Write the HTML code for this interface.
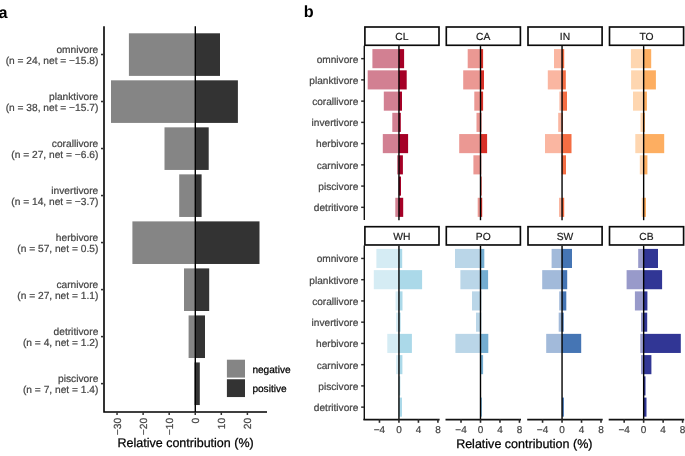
<!DOCTYPE html>
<html><head><meta charset="utf-8"><title>Figure</title>
<style>
html,body{margin:0;padding:0;background:#fff;}
body{width:685px;height:456px;overflow:hidden;font-family:"Liberation Sans",sans-serif;}
svg{display:block;will-change:transform;}
</style></head><body>
<svg width="685" height="456" viewBox="0 0 685 456">

<rect x="128.90" y="33.30" width="66.40" height="42.60" fill="#858585"/>
<rect x="195.30" y="33.30" width="24.70" height="42.60" fill="#333333"/>
<rect x="111.00" y="80.32" width="84.30" height="42.60" fill="#858585"/>
<rect x="195.30" y="80.32" width="42.60" height="42.60" fill="#333333"/>
<rect x="164.50" y="127.34" width="30.80" height="42.60" fill="#858585"/>
<rect x="195.30" y="127.34" width="13.40" height="42.60" fill="#333333"/>
<rect x="179.20" y="174.36" width="16.10" height="42.60" fill="#858585"/>
<rect x="195.30" y="174.36" width="6.30" height="42.60" fill="#333333"/>
<rect x="132.40" y="221.38" width="62.90" height="42.60" fill="#858585"/>
<rect x="195.30" y="221.38" width="64.20" height="42.60" fill="#333333"/>
<rect x="184.00" y="268.40" width="11.30" height="42.60" fill="#858585"/>
<rect x="195.30" y="268.40" width="13.90" height="42.60" fill="#333333"/>
<rect x="188.60" y="315.42" width="6.70" height="42.60" fill="#858585"/>
<rect x="195.30" y="315.42" width="9.70" height="42.60" fill="#333333"/>
<rect x="194.30" y="362.44" width="1.00" height="42.60" fill="#858585"/>
<rect x="195.30" y="362.44" width="4.50" height="42.60" fill="#333333"/>
<line x1="195.3" y1="26.2" x2="195.3" y2="411.95" stroke="#000" stroke-width="1.4"/>
<path d="M104.0 26.2 V411.95 H267.0" fill="none" stroke="#000000" stroke-width="1.6" stroke-linejoin="miter"/>
<line x1="101.0" y1="54.50" x2="104.0" y2="54.50" stroke="#333333" stroke-width="1.55"/>
<text x="98.3" y="52.95" text-anchor="end" font-size="10.2" fill="#454545" stroke="#454545" stroke-width="0.22" font-family="Liberation Sans, sans-serif" text-rendering="geometricPrecision">omnivore</text>
<text x="98.3" y="63.60" text-anchor="end" font-size="10.2" fill="#454545" stroke="#454545" stroke-width="0.22" font-family="Liberation Sans, sans-serif" text-rendering="geometricPrecision">(n = 24, net = −15.8)</text>
<line x1="101.0" y1="101.52" x2="104.0" y2="101.52" stroke="#333333" stroke-width="1.55"/>
<text x="98.3" y="99.97" text-anchor="end" font-size="10.2" fill="#454545" stroke="#454545" stroke-width="0.22" font-family="Liberation Sans, sans-serif" text-rendering="geometricPrecision">planktivore</text>
<text x="98.3" y="110.62" text-anchor="end" font-size="10.2" fill="#454545" stroke="#454545" stroke-width="0.22" font-family="Liberation Sans, sans-serif" text-rendering="geometricPrecision">(n = 38, net = −15.7)</text>
<line x1="101.0" y1="148.54" x2="104.0" y2="148.54" stroke="#333333" stroke-width="1.55"/>
<text x="98.3" y="146.99" text-anchor="end" font-size="10.2" fill="#454545" stroke="#454545" stroke-width="0.22" font-family="Liberation Sans, sans-serif" text-rendering="geometricPrecision">corallivore</text>
<text x="98.3" y="157.64" text-anchor="end" font-size="10.2" fill="#454545" stroke="#454545" stroke-width="0.22" font-family="Liberation Sans, sans-serif" text-rendering="geometricPrecision">(n = 27, net = −6.6)</text>
<line x1="101.0" y1="195.56" x2="104.0" y2="195.56" stroke="#333333" stroke-width="1.55"/>
<text x="98.3" y="194.01" text-anchor="end" font-size="10.2" fill="#454545" stroke="#454545" stroke-width="0.22" font-family="Liberation Sans, sans-serif" text-rendering="geometricPrecision">invertivore</text>
<text x="98.3" y="204.66" text-anchor="end" font-size="10.2" fill="#454545" stroke="#454545" stroke-width="0.22" font-family="Liberation Sans, sans-serif" text-rendering="geometricPrecision">(n = 14, net = −3.7)</text>
<line x1="101.0" y1="242.58" x2="104.0" y2="242.58" stroke="#333333" stroke-width="1.55"/>
<text x="98.3" y="241.03" text-anchor="end" font-size="10.2" fill="#454545" stroke="#454545" stroke-width="0.22" font-family="Liberation Sans, sans-serif" text-rendering="geometricPrecision">herbivore</text>
<text x="98.3" y="251.68" text-anchor="end" font-size="10.2" fill="#454545" stroke="#454545" stroke-width="0.22" font-family="Liberation Sans, sans-serif" text-rendering="geometricPrecision">(n = 57, net = 0.5)</text>
<line x1="101.0" y1="289.60" x2="104.0" y2="289.60" stroke="#333333" stroke-width="1.55"/>
<text x="98.3" y="288.05" text-anchor="end" font-size="10.2" fill="#454545" stroke="#454545" stroke-width="0.22" font-family="Liberation Sans, sans-serif" text-rendering="geometricPrecision">carnivore</text>
<text x="98.3" y="298.70" text-anchor="end" font-size="10.2" fill="#454545" stroke="#454545" stroke-width="0.22" font-family="Liberation Sans, sans-serif" text-rendering="geometricPrecision">(n = 27, net = 1.1)</text>
<line x1="101.0" y1="336.62" x2="104.0" y2="336.62" stroke="#333333" stroke-width="1.55"/>
<text x="98.3" y="335.07" text-anchor="end" font-size="10.2" fill="#454545" stroke="#454545" stroke-width="0.22" font-family="Liberation Sans, sans-serif" text-rendering="geometricPrecision">detritivore</text>
<text x="98.3" y="345.72" text-anchor="end" font-size="10.2" fill="#454545" stroke="#454545" stroke-width="0.22" font-family="Liberation Sans, sans-serif" text-rendering="geometricPrecision">(n = 4, net = 1.2)</text>
<line x1="101.0" y1="383.64" x2="104.0" y2="383.64" stroke="#333333" stroke-width="1.55"/>
<text x="98.3" y="382.09" text-anchor="end" font-size="10.2" fill="#454545" stroke="#454545" stroke-width="0.22" font-family="Liberation Sans, sans-serif" text-rendering="geometricPrecision">piscivore</text>
<text x="98.3" y="392.74" text-anchor="end" font-size="10.2" fill="#454545" stroke="#454545" stroke-width="0.22" font-family="Liberation Sans, sans-serif" text-rendering="geometricPrecision">(n = 7, net = 1.4)</text>
<line x1="117.04" y1="411.95" x2="117.04" y2="415.0" stroke="#333333" stroke-width="1.5"/>
<text transform="translate(120.54,417.8) rotate(-90)" text-anchor="end" font-size="10.3" fill="#454545" stroke="#454545" stroke-width="0.22" font-family="Liberation Sans, sans-serif" text-rendering="geometricPrecision">−30</text>
<line x1="143.11" y1="411.95" x2="143.11" y2="415.0" stroke="#333333" stroke-width="1.5"/>
<text transform="translate(146.61,417.8) rotate(-90)" text-anchor="end" font-size="10.3" fill="#454545" stroke="#454545" stroke-width="0.22" font-family="Liberation Sans, sans-serif" text-rendering="geometricPrecision">−20</text>
<line x1="169.18" y1="411.95" x2="169.18" y2="415.0" stroke="#333333" stroke-width="1.5"/>
<text transform="translate(172.68,417.8) rotate(-90)" text-anchor="end" font-size="10.3" fill="#454545" stroke="#454545" stroke-width="0.22" font-family="Liberation Sans, sans-serif" text-rendering="geometricPrecision">−10</text>
<line x1="195.25" y1="411.95" x2="195.25" y2="415.0" stroke="#333333" stroke-width="1.5"/>
<text transform="translate(198.75,417.8) rotate(-90)" text-anchor="end" font-size="10.3" fill="#454545" stroke="#454545" stroke-width="0.22" font-family="Liberation Sans, sans-serif" text-rendering="geometricPrecision">0</text>
<line x1="221.32" y1="411.95" x2="221.32" y2="415.0" stroke="#333333" stroke-width="1.5"/>
<text transform="translate(224.82,417.8) rotate(-90)" text-anchor="end" font-size="10.3" fill="#454545" stroke="#454545" stroke-width="0.22" font-family="Liberation Sans, sans-serif" text-rendering="geometricPrecision">10</text>
<line x1="247.39" y1="411.95" x2="247.39" y2="415.0" stroke="#333333" stroke-width="1.5"/>
<text transform="translate(250.89,417.8) rotate(-90)" text-anchor="end" font-size="10.3" fill="#454545" stroke="#454545" stroke-width="0.22" font-family="Liberation Sans, sans-serif" text-rendering="geometricPrecision">20</text>
<text x="185.6" y="447.15" text-anchor="middle" font-size="12.5" fill="#000" stroke="#000" stroke-width="0.25" font-family="Liberation Sans, sans-serif" text-rendering="geometricPrecision">Relative contribution (%)</text>
<rect x="226.9" y="359.7" width="18.1" height="17.9" fill="#858585"/>
<rect x="226.9" y="379.25" width="18.1" height="17.8" fill="#333333"/>
<text x="252.4" y="372.5" font-size="10.1" fill="#000" stroke="#000" stroke-width="0.25" font-family="Liberation Sans, sans-serif" text-rendering="geometricPrecision">negative</text>
<text x="252.4" y="392.4" font-size="10.1" fill="#000" stroke="#000" stroke-width="0.25" font-family="Liberation Sans, sans-serif" text-rendering="geometricPrecision">positive</text>
<text x="-1.4" y="17.6" font-size="16.2" font-weight="bold" fill="#000" font-family="Liberation Sans, sans-serif" text-rendering="geometricPrecision">a</text>
<text x="303.8" y="17.3" font-size="16.2" font-weight="bold" fill="#000" font-family="Liberation Sans, sans-serif" text-rendering="geometricPrecision">b</text>
<rect x="372.40" y="49.10" width="26.55" height="19.10" fill="#D28092"/>
<rect x="398.95" y="49.10" width="5.15" height="19.10" fill="#A50026"/>
<rect x="367.70" y="70.34" width="31.25" height="19.10" fill="#D28092"/>
<rect x="398.95" y="70.34" width="7.75" height="19.10" fill="#A50026"/>
<rect x="383.80" y="91.58" width="15.15" height="19.10" fill="#D28092"/>
<rect x="398.95" y="91.58" width="3.05" height="19.10" fill="#A50026"/>
<rect x="392.30" y="112.82" width="6.65" height="19.10" fill="#D28092"/>
<rect x="398.95" y="112.82" width="1.85" height="19.10" fill="#A50026"/>
<rect x="382.80" y="134.06" width="16.15" height="19.10" fill="#D28092"/>
<rect x="398.95" y="134.06" width="9.15" height="19.10" fill="#A50026"/>
<rect x="397.00" y="155.30" width="1.95" height="19.10" fill="#D28092"/>
<rect x="398.95" y="155.30" width="3.95" height="19.10" fill="#A50026"/>
<rect x="398.70" y="176.54" width="0.25" height="19.10" fill="#D28092"/>
<rect x="398.95" y="176.54" width="2.05" height="19.10" fill="#A50026"/>
<rect x="395.30" y="197.78" width="3.65" height="19.10" fill="#D28092"/>
<rect x="398.95" y="197.78" width="4.25" height="19.10" fill="#A50026"/>
<line x1="398.95" y1="46.1" x2="398.95" y2="220.20000000000002" stroke="#000" stroke-width="1.4"/>
<rect x="364.90" y="27.00" width="74.1" height="18.28" fill="#fff" stroke="#0a0a0a" stroke-width="1.65"/>
<text x="401.85" y="39.85" text-anchor="middle" font-size="10.3" fill="#1a1a1a" stroke="#1a1a1a" stroke-width="0.2" font-family="Liberation Sans, sans-serif" text-rendering="geometricPrecision">CL</text>
<line x1="364.30" y1="45.800000000000004" x2="364.30" y2="219.9" stroke="#111" stroke-width="1.4"/>
<line x1="361.15" y1="58.65" x2="364.05" y2="58.65" stroke="#2a2a2a" stroke-width="1.45"/>
<text x="358.3" y="62.50" text-anchor="end" font-size="10.15" fill="#454545" stroke="#454545" stroke-width="0.22" font-family="Liberation Sans, sans-serif" text-rendering="geometricPrecision">omnivore</text>
<line x1="361.15" y1="79.89" x2="364.05" y2="79.89" stroke="#2a2a2a" stroke-width="1.45"/>
<text x="358.3" y="83.74" text-anchor="end" font-size="10.15" fill="#454545" stroke="#454545" stroke-width="0.22" font-family="Liberation Sans, sans-serif" text-rendering="geometricPrecision">planktivore</text>
<line x1="361.15" y1="101.13" x2="364.05" y2="101.13" stroke="#2a2a2a" stroke-width="1.45"/>
<text x="358.3" y="104.98" text-anchor="end" font-size="10.15" fill="#454545" stroke="#454545" stroke-width="0.22" font-family="Liberation Sans, sans-serif" text-rendering="geometricPrecision">corallivore</text>
<line x1="361.15" y1="122.37" x2="364.05" y2="122.37" stroke="#2a2a2a" stroke-width="1.45"/>
<text x="358.3" y="126.22" text-anchor="end" font-size="10.15" fill="#454545" stroke="#454545" stroke-width="0.22" font-family="Liberation Sans, sans-serif" text-rendering="geometricPrecision">invertivore</text>
<line x1="361.15" y1="143.61" x2="364.05" y2="143.61" stroke="#2a2a2a" stroke-width="1.45"/>
<text x="358.3" y="147.46" text-anchor="end" font-size="10.15" fill="#454545" stroke="#454545" stroke-width="0.22" font-family="Liberation Sans, sans-serif" text-rendering="geometricPrecision">herbivore</text>
<line x1="361.15" y1="164.85" x2="364.05" y2="164.85" stroke="#2a2a2a" stroke-width="1.45"/>
<text x="358.3" y="168.70" text-anchor="end" font-size="10.15" fill="#454545" stroke="#454545" stroke-width="0.22" font-family="Liberation Sans, sans-serif" text-rendering="geometricPrecision">carnivore</text>
<line x1="361.15" y1="186.09" x2="364.05" y2="186.09" stroke="#2a2a2a" stroke-width="1.45"/>
<text x="358.3" y="189.94" text-anchor="end" font-size="10.15" fill="#454545" stroke="#454545" stroke-width="0.22" font-family="Liberation Sans, sans-serif" text-rendering="geometricPrecision">piscivore</text>
<line x1="361.15" y1="207.33" x2="364.05" y2="207.33" stroke="#2a2a2a" stroke-width="1.45"/>
<text x="358.3" y="211.18" text-anchor="end" font-size="10.15" fill="#454545" stroke="#454545" stroke-width="0.22" font-family="Liberation Sans, sans-serif" text-rendering="geometricPrecision">detritivore</text>
<rect x="467.70" y="49.10" width="12.80" height="19.10" fill="#EB9893"/>
<rect x="480.50" y="49.10" width="2.60" height="19.10" fill="#D73027"/>
<rect x="463.20" y="70.34" width="17.30" height="19.10" fill="#EB9893"/>
<rect x="480.50" y="70.34" width="3.50" height="19.10" fill="#D73027"/>
<rect x="474.30" y="91.58" width="6.20" height="19.10" fill="#EB9893"/>
<rect x="480.50" y="91.58" width="2.60" height="19.10" fill="#D73027"/>
<rect x="476.50" y="112.82" width="4.00" height="19.10" fill="#EB9893"/>
<rect x="480.50" y="112.82" width="0.90" height="19.10" fill="#D73027"/>
<rect x="459.20" y="134.06" width="21.30" height="19.10" fill="#EB9893"/>
<rect x="480.50" y="134.06" width="6.60" height="19.10" fill="#D73027"/>
<rect x="473.40" y="155.30" width="7.10" height="19.10" fill="#EB9893"/>
<rect x="480.50" y="155.30" width="0.70" height="19.10" fill="#D73027"/>
<rect x="480.30" y="176.54" width="0.20" height="19.10" fill="#EB9893"/>
<rect x="480.50" y="176.54" width="1.10" height="19.10" fill="#D73027"/>
<rect x="477.70" y="197.78" width="2.80" height="19.10" fill="#EB9893"/>
<rect x="480.50" y="197.78" width="1.70" height="19.10" fill="#D73027"/>
<line x1="480.50" y1="46.1" x2="480.50" y2="220.20000000000002" stroke="#000" stroke-width="1.4"/>
<rect x="446.30" y="27.00" width="74.1" height="18.28" fill="#fff" stroke="#0a0a0a" stroke-width="1.65"/>
<text x="483.25" y="39.85" text-anchor="middle" font-size="10.3" fill="#1a1a1a" stroke="#1a1a1a" stroke-width="0.2" font-family="Liberation Sans, sans-serif" text-rendering="geometricPrecision">CA</text>
<rect x="554.00" y="49.10" width="8.05" height="19.10" fill="#FAB6A1"/>
<rect x="562.05" y="49.10" width="2.15" height="19.10" fill="#F46D43"/>
<rect x="547.80" y="70.34" width="14.25" height="19.10" fill="#FAB6A1"/>
<rect x="562.05" y="70.34" width="3.75" height="19.10" fill="#F46D43"/>
<rect x="559.40" y="91.58" width="2.65" height="19.10" fill="#FAB6A1"/>
<rect x="562.05" y="91.58" width="4.95" height="19.10" fill="#F46D43"/>
<rect x="558.20" y="112.82" width="3.85" height="19.10" fill="#FAB6A1"/>
<rect x="562.05" y="112.82" width="0.75" height="19.10" fill="#F46D43"/>
<rect x="545.00" y="134.06" width="17.05" height="19.10" fill="#FAB6A1"/>
<rect x="562.05" y="134.06" width="9.45" height="19.10" fill="#F46D43"/>
<rect x="561.40" y="155.30" width="0.65" height="19.10" fill="#FAB6A1"/>
<rect x="562.05" y="155.30" width="3.95" height="19.10" fill="#F46D43"/>
<rect x="559.00" y="197.78" width="3.05" height="19.10" fill="#FAB6A1"/>
<rect x="562.05" y="197.78" width="2.15" height="19.10" fill="#F46D43"/>
<line x1="562.05" y1="46.1" x2="562.05" y2="220.20000000000002" stroke="#000" stroke-width="1.4"/>
<rect x="528.00" y="27.00" width="74.1" height="18.28" fill="#fff" stroke="#0a0a0a" stroke-width="1.65"/>
<text x="564.95" y="39.85" text-anchor="middle" font-size="10.3" fill="#1a1a1a" stroke="#1a1a1a" stroke-width="0.2" font-family="Liberation Sans, sans-serif" text-rendering="geometricPrecision">IN</text>
<rect x="630.90" y="49.10" width="12.75" height="19.10" fill="#FED6B0"/>
<rect x="643.65" y="49.10" width="7.55" height="19.10" fill="#FDAE61"/>
<rect x="631.10" y="70.34" width="12.55" height="19.10" fill="#FED6B0"/>
<rect x="643.65" y="70.34" width="12.25" height="19.10" fill="#FDAE61"/>
<rect x="633.00" y="91.58" width="10.65" height="19.10" fill="#FED6B0"/>
<rect x="643.65" y="91.58" width="3.25" height="19.10" fill="#FDAE61"/>
<rect x="640.50" y="112.82" width="3.15" height="19.10" fill="#FED6B0"/>
<rect x="643.65" y="112.82" width="1.35" height="19.10" fill="#FDAE61"/>
<rect x="635.30" y="134.06" width="8.35" height="19.10" fill="#FED6B0"/>
<rect x="643.65" y="134.06" width="20.55" height="19.10" fill="#FDAE61"/>
<rect x="639.80" y="155.30" width="3.85" height="19.10" fill="#FED6B0"/>
<rect x="643.65" y="155.30" width="3.75" height="19.10" fill="#FDAE61"/>
<rect x="641.70" y="197.78" width="1.95" height="19.10" fill="#FED6B0"/>
<rect x="643.65" y="197.78" width="2.35" height="19.10" fill="#FDAE61"/>
<line x1="643.65" y1="46.1" x2="643.65" y2="220.20000000000002" stroke="#000" stroke-width="1.4"/>
<rect x="609.50" y="27.00" width="74.1" height="18.28" fill="#fff" stroke="#0a0a0a" stroke-width="1.65"/>
<text x="646.45" y="39.85" text-anchor="middle" font-size="10.3" fill="#1a1a1a" stroke="#1a1a1a" stroke-width="0.2" font-family="Liberation Sans, sans-serif" text-rendering="geometricPrecision">TO</text>
<rect x="376.40" y="248.90" width="22.55" height="19.10" fill="#D5ECF4"/>
<rect x="398.95" y="248.90" width="3.25" height="19.10" fill="#ABD9E9"/>
<rect x="373.80" y="270.14" width="25.15" height="19.10" fill="#D5ECF4"/>
<rect x="398.95" y="270.14" width="23.15" height="19.10" fill="#ABD9E9"/>
<rect x="395.60" y="291.38" width="3.35" height="19.10" fill="#D5ECF4"/>
<rect x="398.95" y="291.38" width="3.55" height="19.10" fill="#ABD9E9"/>
<rect x="396.10" y="312.62" width="2.85" height="19.10" fill="#D5ECF4"/>
<rect x="398.95" y="312.62" width="1.65" height="19.10" fill="#ABD9E9"/>
<rect x="387.30" y="333.86" width="11.65" height="19.10" fill="#D5ECF4"/>
<rect x="398.95" y="333.86" width="12.95" height="19.10" fill="#ABD9E9"/>
<rect x="396.10" y="355.10" width="2.85" height="19.10" fill="#D5ECF4"/>
<rect x="398.95" y="355.10" width="3.45" height="19.10" fill="#ABD9E9"/>
<rect x="398.70" y="376.34" width="0.25" height="19.10" fill="#D5ECF4"/>
<rect x="398.95" y="376.34" width="1.35" height="19.10" fill="#ABD9E9"/>
<rect x="398.70" y="397.58" width="0.25" height="19.10" fill="#D5ECF4"/>
<rect x="398.95" y="397.58" width="3.05" height="19.10" fill="#ABD9E9"/>
<line x1="398.95" y1="245.7" x2="398.95" y2="419.6" stroke="#000" stroke-width="1.4"/>
<rect x="364.90" y="226.70" width="74.1" height="18.28" fill="#fff" stroke="#0a0a0a" stroke-width="1.65"/>
<text x="401.85" y="239.75" text-anchor="middle" font-size="10.3" fill="#1a1a1a" stroke="#1a1a1a" stroke-width="0.2" font-family="Liberation Sans, sans-serif" text-rendering="geometricPrecision">WH</text>
<line x1="364.30" y1="245.39999999999998" x2="364.30" y2="420.1" stroke="#111" stroke-width="1.4"/>
<line x1="361.15" y1="258.45" x2="364.05" y2="258.45" stroke="#2a2a2a" stroke-width="1.45"/>
<text x="358.3" y="262.30" text-anchor="end" font-size="10.15" fill="#454545" stroke="#454545" stroke-width="0.22" font-family="Liberation Sans, sans-serif" text-rendering="geometricPrecision">omnivore</text>
<line x1="361.15" y1="279.69" x2="364.05" y2="279.69" stroke="#2a2a2a" stroke-width="1.45"/>
<text x="358.3" y="283.54" text-anchor="end" font-size="10.15" fill="#454545" stroke="#454545" stroke-width="0.22" font-family="Liberation Sans, sans-serif" text-rendering="geometricPrecision">planktivore</text>
<line x1="361.15" y1="300.93" x2="364.05" y2="300.93" stroke="#2a2a2a" stroke-width="1.45"/>
<text x="358.3" y="304.78" text-anchor="end" font-size="10.15" fill="#454545" stroke="#454545" stroke-width="0.22" font-family="Liberation Sans, sans-serif" text-rendering="geometricPrecision">corallivore</text>
<line x1="361.15" y1="322.17" x2="364.05" y2="322.17" stroke="#2a2a2a" stroke-width="1.45"/>
<text x="358.3" y="326.02" text-anchor="end" font-size="10.15" fill="#454545" stroke="#454545" stroke-width="0.22" font-family="Liberation Sans, sans-serif" text-rendering="geometricPrecision">invertivore</text>
<line x1="361.15" y1="343.41" x2="364.05" y2="343.41" stroke="#2a2a2a" stroke-width="1.45"/>
<text x="358.3" y="347.26" text-anchor="end" font-size="10.15" fill="#454545" stroke="#454545" stroke-width="0.22" font-family="Liberation Sans, sans-serif" text-rendering="geometricPrecision">herbivore</text>
<line x1="361.15" y1="364.65" x2="364.05" y2="364.65" stroke="#2a2a2a" stroke-width="1.45"/>
<text x="358.3" y="368.50" text-anchor="end" font-size="10.15" fill="#454545" stroke="#454545" stroke-width="0.22" font-family="Liberation Sans, sans-serif" text-rendering="geometricPrecision">carnivore</text>
<line x1="361.15" y1="385.89" x2="364.05" y2="385.89" stroke="#2a2a2a" stroke-width="1.45"/>
<text x="358.3" y="389.74" text-anchor="end" font-size="10.15" fill="#454545" stroke="#454545" stroke-width="0.22" font-family="Liberation Sans, sans-serif" text-rendering="geometricPrecision">piscivore</text>
<line x1="361.15" y1="407.13" x2="364.05" y2="407.13" stroke="#2a2a2a" stroke-width="1.45"/>
<text x="358.3" y="410.98" text-anchor="end" font-size="10.15" fill="#454545" stroke="#454545" stroke-width="0.22" font-family="Liberation Sans, sans-serif" text-rendering="geometricPrecision">detritivore</text>
<line x1="363.40" y1="419.6" x2="439.60" y2="419.6" stroke="#111" stroke-width="1.55"/>
<line x1="379.47" y1="419.3" x2="379.47" y2="422.8" stroke="#2a2a2a" stroke-width="1.6"/>
<text x="379.47" y="432.55" text-anchor="middle" font-size="10" fill="#454545" stroke="#454545" stroke-width="0.22" font-family="Liberation Sans, sans-serif" text-rendering="geometricPrecision">−4</text>
<line x1="398.95" y1="419.3" x2="398.95" y2="422.8" stroke="#2a2a2a" stroke-width="1.6"/>
<text x="398.95" y="432.55" text-anchor="middle" font-size="10" fill="#454545" stroke="#454545" stroke-width="0.22" font-family="Liberation Sans, sans-serif" text-rendering="geometricPrecision">0</text>
<line x1="418.43" y1="419.3" x2="418.43" y2="422.8" stroke="#2a2a2a" stroke-width="1.6"/>
<text x="418.43" y="432.55" text-anchor="middle" font-size="10" fill="#454545" stroke="#454545" stroke-width="0.22" font-family="Liberation Sans, sans-serif" text-rendering="geometricPrecision">4</text>
<line x1="437.91" y1="419.3" x2="437.91" y2="422.8" stroke="#2a2a2a" stroke-width="1.6"/>
<text x="437.91" y="432.55" text-anchor="middle" font-size="10" fill="#454545" stroke="#454545" stroke-width="0.22" font-family="Liberation Sans, sans-serif" text-rendering="geometricPrecision">8</text>
<rect x="455.00" y="248.90" width="25.50" height="19.10" fill="#BAD6E8"/>
<rect x="480.50" y="248.90" width="3.80" height="19.10" fill="#74ADD1"/>
<rect x="460.40" y="270.14" width="20.10" height="19.10" fill="#BAD6E8"/>
<rect x="480.50" y="270.14" width="7.60" height="19.10" fill="#74ADD1"/>
<rect x="472.00" y="291.38" width="8.50" height="19.10" fill="#BAD6E8"/>
<rect x="480.50" y="291.38" width="0.70" height="19.10" fill="#74ADD1"/>
<rect x="476.00" y="312.62" width="4.50" height="19.10" fill="#BAD6E8"/>
<rect x="480.50" y="312.62" width="0.70" height="19.10" fill="#74ADD1"/>
<rect x="455.40" y="333.86" width="25.10" height="19.10" fill="#BAD6E8"/>
<rect x="480.50" y="333.86" width="7.80" height="19.10" fill="#74ADD1"/>
<rect x="480.30" y="355.10" width="0.20" height="19.10" fill="#BAD6E8"/>
<rect x="480.50" y="355.10" width="2.60" height="19.10" fill="#74ADD1"/>
<rect x="480.30" y="397.58" width="0.20" height="19.10" fill="#BAD6E8"/>
<rect x="480.50" y="397.58" width="1.40" height="19.10" fill="#74ADD1"/>
<line x1="480.50" y1="245.7" x2="480.50" y2="419.6" stroke="#000" stroke-width="1.4"/>
<rect x="446.30" y="226.70" width="74.1" height="18.28" fill="#fff" stroke="#0a0a0a" stroke-width="1.65"/>
<text x="483.25" y="239.75" text-anchor="middle" font-size="10.3" fill="#1a1a1a" stroke="#1a1a1a" stroke-width="0.2" font-family="Liberation Sans, sans-serif" text-rendering="geometricPrecision">PO</text>
<line x1="445.50" y1="419.6" x2="521.00" y2="419.6" stroke="#111" stroke-width="1.55"/>
<line x1="461.02" y1="419.3" x2="461.02" y2="422.8" stroke="#2a2a2a" stroke-width="1.6"/>
<text x="461.02" y="432.55" text-anchor="middle" font-size="10" fill="#454545" stroke="#454545" stroke-width="0.22" font-family="Liberation Sans, sans-serif" text-rendering="geometricPrecision">−4</text>
<line x1="480.50" y1="419.3" x2="480.50" y2="422.8" stroke="#2a2a2a" stroke-width="1.6"/>
<text x="480.50" y="432.55" text-anchor="middle" font-size="10" fill="#454545" stroke="#454545" stroke-width="0.22" font-family="Liberation Sans, sans-serif" text-rendering="geometricPrecision">0</text>
<line x1="499.98" y1="419.3" x2="499.98" y2="422.8" stroke="#2a2a2a" stroke-width="1.6"/>
<text x="499.98" y="432.55" text-anchor="middle" font-size="10" fill="#454545" stroke="#454545" stroke-width="0.22" font-family="Liberation Sans, sans-serif" text-rendering="geometricPrecision">4</text>
<line x1="519.46" y1="419.3" x2="519.46" y2="422.8" stroke="#2a2a2a" stroke-width="1.6"/>
<text x="519.46" y="432.55" text-anchor="middle" font-size="10" fill="#454545" stroke="#454545" stroke-width="0.22" font-family="Liberation Sans, sans-serif" text-rendering="geometricPrecision">8</text>
<rect x="551.60" y="248.90" width="10.45" height="19.10" fill="#A2BADA"/>
<rect x="562.05" y="248.90" width="9.95" height="19.10" fill="#4575B4"/>
<rect x="542.20" y="270.14" width="19.85" height="19.10" fill="#A2BADA"/>
<rect x="562.05" y="270.14" width="5.15" height="19.10" fill="#4575B4"/>
<rect x="559.20" y="291.38" width="2.85" height="19.10" fill="#A2BADA"/>
<rect x="562.05" y="291.38" width="4.25" height="19.10" fill="#4575B4"/>
<rect x="558.70" y="312.62" width="3.35" height="19.10" fill="#A2BADA"/>
<rect x="562.05" y="312.62" width="1.65" height="19.10" fill="#4575B4"/>
<rect x="546.20" y="333.86" width="15.85" height="19.10" fill="#A2BADA"/>
<rect x="562.05" y="333.86" width="19.15" height="19.10" fill="#4575B4"/>
<rect x="561.90" y="397.58" width="0.15" height="19.10" fill="#A2BADA"/>
<rect x="562.05" y="397.58" width="1.85" height="19.10" fill="#4575B4"/>
<line x1="562.05" y1="245.7" x2="562.05" y2="419.6" stroke="#000" stroke-width="1.4"/>
<rect x="528.00" y="226.70" width="74.1" height="18.28" fill="#fff" stroke="#0a0a0a" stroke-width="1.65"/>
<text x="564.95" y="239.75" text-anchor="middle" font-size="10.3" fill="#1a1a1a" stroke="#1a1a1a" stroke-width="0.2" font-family="Liberation Sans, sans-serif" text-rendering="geometricPrecision">SW</text>
<line x1="527.20" y1="419.6" x2="602.70" y2="419.6" stroke="#111" stroke-width="1.55"/>
<line x1="542.57" y1="419.3" x2="542.57" y2="422.8" stroke="#2a2a2a" stroke-width="1.6"/>
<text x="542.57" y="432.55" text-anchor="middle" font-size="10" fill="#454545" stroke="#454545" stroke-width="0.22" font-family="Liberation Sans, sans-serif" text-rendering="geometricPrecision">−4</text>
<line x1="562.05" y1="419.3" x2="562.05" y2="422.8" stroke="#2a2a2a" stroke-width="1.6"/>
<text x="562.05" y="432.55" text-anchor="middle" font-size="10" fill="#454545" stroke="#454545" stroke-width="0.22" font-family="Liberation Sans, sans-serif" text-rendering="geometricPrecision">0</text>
<line x1="581.53" y1="419.3" x2="581.53" y2="422.8" stroke="#2a2a2a" stroke-width="1.6"/>
<text x="581.53" y="432.55" text-anchor="middle" font-size="10" fill="#454545" stroke="#454545" stroke-width="0.22" font-family="Liberation Sans, sans-serif" text-rendering="geometricPrecision">4</text>
<line x1="601.01" y1="419.3" x2="601.01" y2="422.8" stroke="#2a2a2a" stroke-width="1.6"/>
<text x="601.01" y="432.55" text-anchor="middle" font-size="10" fill="#454545" stroke="#454545" stroke-width="0.22" font-family="Liberation Sans, sans-serif" text-rendering="geometricPrecision">8</text>
<rect x="638.20" y="248.90" width="5.45" height="19.10" fill="#989ACA"/>
<rect x="643.65" y="248.90" width="14.35" height="19.10" fill="#313695"/>
<rect x="626.60" y="270.14" width="17.05" height="19.10" fill="#989ACA"/>
<rect x="643.65" y="270.14" width="18.45" height="19.10" fill="#313695"/>
<rect x="634.90" y="291.38" width="8.75" height="19.10" fill="#989ACA"/>
<rect x="643.65" y="291.38" width="3.75" height="19.10" fill="#313695"/>
<rect x="641.00" y="312.62" width="2.65" height="19.10" fill="#989ACA"/>
<rect x="643.65" y="312.62" width="3.55" height="19.10" fill="#313695"/>
<rect x="640.30" y="333.86" width="3.35" height="19.10" fill="#989ACA"/>
<rect x="643.65" y="333.86" width="37.15" height="19.10" fill="#313695"/>
<rect x="641.00" y="355.10" width="2.65" height="19.10" fill="#989ACA"/>
<rect x="643.65" y="355.10" width="7.75" height="19.10" fill="#313695"/>
<rect x="643.40" y="376.34" width="0.25" height="19.10" fill="#989ACA"/>
<rect x="643.65" y="376.34" width="1.85" height="19.10" fill="#313695"/>
<rect x="643.40" y="397.58" width="0.25" height="19.10" fill="#989ACA"/>
<rect x="643.65" y="397.58" width="2.85" height="19.10" fill="#313695"/>
<line x1="643.65" y1="245.7" x2="643.65" y2="419.6" stroke="#000" stroke-width="1.4"/>
<rect x="609.50" y="226.70" width="74.1" height="18.28" fill="#fff" stroke="#0a0a0a" stroke-width="1.65"/>
<text x="646.45" y="239.75" text-anchor="middle" font-size="10.3" fill="#1a1a1a" stroke="#1a1a1a" stroke-width="0.2" font-family="Liberation Sans, sans-serif" text-rendering="geometricPrecision">CB</text>
<line x1="608.70" y1="419.6" x2="684.20" y2="419.6" stroke="#111" stroke-width="1.55"/>
<line x1="624.17" y1="419.3" x2="624.17" y2="422.8" stroke="#2a2a2a" stroke-width="1.6"/>
<text x="624.17" y="432.55" text-anchor="middle" font-size="10" fill="#454545" stroke="#454545" stroke-width="0.22" font-family="Liberation Sans, sans-serif" text-rendering="geometricPrecision">−4</text>
<line x1="643.65" y1="419.3" x2="643.65" y2="422.8" stroke="#2a2a2a" stroke-width="1.6"/>
<text x="643.65" y="432.55" text-anchor="middle" font-size="10" fill="#454545" stroke="#454545" stroke-width="0.22" font-family="Liberation Sans, sans-serif" text-rendering="geometricPrecision">0</text>
<line x1="663.13" y1="419.3" x2="663.13" y2="422.8" stroke="#2a2a2a" stroke-width="1.6"/>
<text x="663.13" y="432.55" text-anchor="middle" font-size="10" fill="#454545" stroke="#454545" stroke-width="0.22" font-family="Liberation Sans, sans-serif" text-rendering="geometricPrecision">4</text>
<line x1="682.61" y1="419.3" x2="682.61" y2="422.8" stroke="#2a2a2a" stroke-width="1.6"/>
<text x="682.61" y="432.55" text-anchor="middle" font-size="10" fill="#454545" stroke="#454545" stroke-width="0.22" font-family="Liberation Sans, sans-serif" text-rendering="geometricPrecision">8</text>
<text x="524.3" y="447.6" text-anchor="middle" font-size="12.52" fill="#000" stroke="#000" stroke-width="0.25" font-family="Liberation Sans, sans-serif" text-rendering="geometricPrecision">Relative contribution (%)</text>
</svg>
</body></html>
